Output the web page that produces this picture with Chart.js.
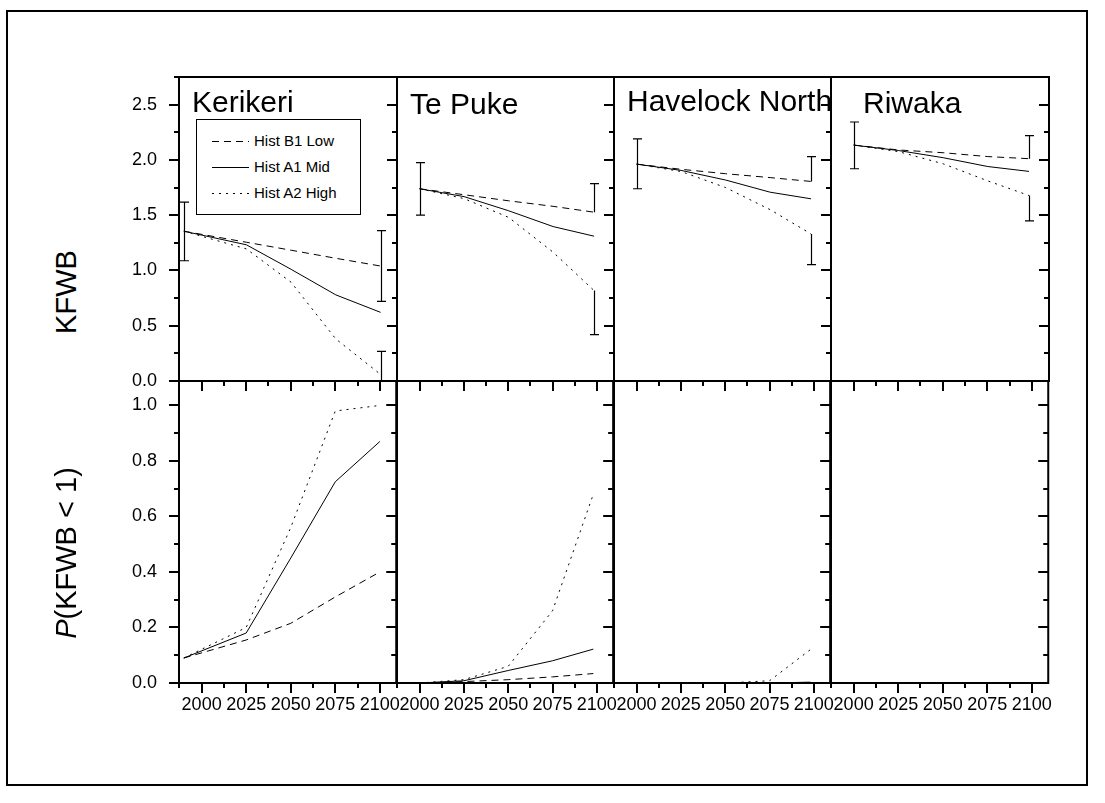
<!DOCTYPE html>
<html>
<head>
<meta charset="utf-8">
<title>KFWB projections by site</title>
<script src="https://cdn.jsdelivr.net/npm/chart.js@4.4.1/dist/chart.umd.min.js"></script>
<style>
  html, body { margin: 0; padding: 0; background: #fff; }
  #page { position: relative; width: 1105px; height: 803px; overflow: hidden;
          font-family: "Liberation Sans", Arial, Helvetica, sans-serif; color: #000; }
  #frame { position: absolute; left: 6px; top: 10px; width: 1082px; height: 776px;
           border: 2px solid #000; box-sizing: border-box; }
  #page canvas { position: absolute; }
  .site { position: absolute; font-size: 30px; line-height: 30px; white-space: nowrap; z-index: 5; }
  .axis-title { position: absolute; font-size: 29px; line-height: 29px; white-space: nowrap;
                transform: translate(-50%, -50%) rotate(-90deg); z-index: 5; }
  #legend { position: absolute; left: 196px; top: 119px; width: 165px; height: 96px;
            border: 1px solid #000; box-sizing: border-box; background: #fff; z-index: 5; }
  .lg-row { position: absolute; left: 0; width: 160px; height: 20px; font-size: 15px;
            line-height: 20px; white-space: nowrap; }
  .lg-row svg { position: absolute; left: 15px; top: 0; }
  .lg-row span { position: absolute; left: 57px; top: 0; }
</style>
</head>
<body>
<div id="page">
  <div id="frame"></div>
</div>
<script>
// ---- data ----
const siteNames = ['Kerikeri', 'Te Puke', 'Havelock North', 'Riwaka'];
const scenarioNames = ['Hist B1 Low', 'Hist A1 Mid', 'Hist A2 High'];

const xTickYears = [2000, 2025, 2050, 2075, 2100];
const kfwbTicks = [0.0, 0.5, 1.0, 1.5, 2.0, 2.5];
const probTicks = [0.0, 0.2, 0.4, 0.6, 0.8, 1.0];

const kerikeriYears = [1990, 2025, 2050, 2075, 2100];
const tePukeYears   = [2000, 2025, 2050, 2075, 2098];
const havelockYears = [2000, 2025, 2050, 2075, 2098];
const riwakaYears   = [2000, 2025, 2050, 2075, 2098];

// KFWB
const kerikeriKfwbLow  = [1.355, 1.255, 1.183, 1.11, 1.04];
const kerikeriKfwbMid  = [1.355, 1.232, 1.01, 0.779, 0.621];
const kerikeriKfwbHigh = [1.355, 1.195, 0.893, 0.38, 0.06];
const tePukeKfwbLow    = [1.739, 1.685, 1.63, 1.58, 1.527];
const tePukeKfwbMid    = [1.739, 1.668, 1.54, 1.397, 1.31];
const tePukeKfwbHigh   = [1.739, 1.65, 1.48, 1.165, 0.818];
const havelockKfwbLow  = [1.962, 1.915, 1.875, 1.84, 1.805];
const havelockKfwbMid  = [1.962, 1.905, 1.818, 1.708, 1.648];
const havelockKfwbHigh = [1.962, 1.895, 1.75, 1.55, 1.33];
const riwakaKfwbLow    = [2.134, 2.09, 2.065, 2.03, 2.011];
const riwakaKfwbMid    = [2.134, 2.085, 2.02, 1.94, 1.896];
const riwakaKfwbHigh   = [2.134, 2.075, 1.965, 1.81, 1.678];

// P(KFWB < 1)
const kerikeriProbLow  = [0.09, 0.155, 0.215, 0.31, 0.40];
const kerikeriProbMid  = [0.09, 0.18, 0.45, 0.725, 0.87];
const kerikeriProbHigh = [0.09, 0.20, 0.56, 0.98, 1.0];
const tePukeProbLow    = [0, 0.005, 0.012, 0.022, 0.034];
const tePukeProbMid    = [0, 0.008, 0.045, 0.08, 0.122];
const tePukeProbHigh   = [0, 0.012, 0.06, 0.26, 0.68];
const havelockProbLow  = [0, 0, 0, 0, 0];
const havelockProbMid  = [0, 0, 0, 0, 0.003];
const havelockProbHigh = [0, 0, 0, 0.008, 0.12];
const riwakaProbLow    = [0, 0, 0, 0, 0];
const riwakaProbMid    = [0, 0, 0, 0, 0];
const riwakaProbHigh   = [0, 0, 0, 0, 0];

// spread bars: year, lower end, upper end, cap at lower end, cap at upper end
const kerikeriBars = [[1990, 1.088, 1.618, 1, 1], [2100, 0.72, 1.36, 1, 1], [2100, -0.15, 0.268, 1, 1]];
const tePukeBars   = [[2000, 1.50, 1.975, 1, 1], [2098, 1.527, 1.785, 0, 1], [2098, 0.42, 0.818, 1, 0]];
const havelockBars = [[2000, 1.739, 2.19, 1, 1], [2098, 1.805, 2.03, 0, 1], [2098, 1.053, 1.33, 1, 0]];
const riwakaBars   = [[2000, 1.92, 2.343, 1, 1], [2098, 2.011, 2.219, 0, 1], [2098, 1.449, 1.678, 1, 0]];

// ---- assembly ----
const sites = [
  { years: kerikeriYears, kfwb: [kerikeriKfwbLow, kerikeriKfwbMid, kerikeriKfwbHigh],
    prob: [kerikeriProbLow, kerikeriProbMid, kerikeriProbHigh], bars: kerikeriBars },
  { years: tePukeYears, kfwb: [tePukeKfwbLow, tePukeKfwbMid, tePukeKfwbHigh],
    prob: [tePukeProbLow, tePukeProbMid, tePukeProbHigh], bars: tePukeBars },
  { years: havelockYears, kfwb: [havelockKfwbLow, havelockKfwbMid, havelockKfwbHigh],
    prob: [havelockProbLow, havelockProbMid, havelockProbHigh], bars: havelockBars },
  { years: riwakaYears, kfwb: [riwakaKfwbLow, riwakaKfwbMid, riwakaKfwbHigh],
    prob: [riwakaProbLow, riwakaProbMid, riwakaProbHigh], bars: riwakaBars }
];

// ---- layout & style ----
const colEdges = [179, 397, 614, 831, 1049];
const rowEdges = [77, 381, 683];
const xRange = [1987.3, 2109.2];
const yRanges = [[0, 2.75], [0, 1.088]];
const dashes = [[7, 5], [], [2, 5]];
const titleSpots = [[192, 87], [410, 89], [627, 86], [863, 88]];
const tickFont = { family: 'Liberation Sans', size: 18 };
const MAJOR = 10, MINOR = 5;

function tickList(majors, lo, hi) {
  const step = majors[1] - majors[0];
  const out = majors.filter(v => v >= lo - 1e-9 && v <= hi + 1e-9).map(v => [v, MAJOR]);
  for (let v = majors[0] - step / 2; v <= hi + 1e-9; v += step) {
    if (v >= lo - 1e-9) out.push([v, MINOR]);
  }
  return out;
}

// frame and tick marks round each panel
const panelFrame = {
  id: 'panelFrame',
  afterDraw(chart, args, opts) {
    const { ctx, chartArea: a, scales: { x, y } } = chart;
    ctx.save();
    ctx.strokeStyle = '#000';
    ctx.lineWidth = 2;
    ctx.lineCap = 'butt';
    ctx.beginPath();
    tickList(opts.yTicks, y.min, y.max).forEach(([v, len]) => {
      const p = Math.round(y.getPixelForValue(v));
      ctx.moveTo(a.left, p); ctx.lineTo(a.left - len, p);
      ctx.moveTo(a.right, p); ctx.lineTo(a.right - len, p);
    });
    if (opts.row === 1) {
      tickList(xTickYears, x.min, x.max).forEach(([v, len]) => {
        const p = Math.round(x.getPixelForValue(v));
        ctx.moveTo(p, a.bottom); ctx.lineTo(p, a.bottom + len);
        ctx.moveTo(p, a.top); ctx.lineTo(p, a.top + len);
      });
    }
    ctx.stroke();
    ctx.strokeRect(a.left, a.top, a.right - a.left, a.bottom - a.top);
    ctx.restore();
  }
};

// vertical spread bars with end caps
const spreadBars = {
  id: 'spreadBars',
  afterDatasetsDraw(chart, args, opts) {
    const bars = opts.bars || [];
    if (!bars.length) return;
    const { ctx, chartArea: a, scales: { x, y } } = chart;
    ctx.save();
    ctx.beginPath();
    ctx.rect(a.left, a.top, a.right - a.left, a.bottom - a.top);
    ctx.clip();
    ctx.strokeStyle = '#000';
    ctx.lineWidth = 1.2;
    ctx.beginPath();
    bars.forEach(([yr, lo, hi, capLo, capHi]) => {
      const px = Math.round(x.getPixelForValue(yr)) + 0.5;
      const pLo = y.getPixelForValue(lo), pHi = y.getPixelForValue(hi);
      ctx.moveTo(px, pLo); ctx.lineTo(px, pHi);
      if (capLo) { ctx.moveTo(px - 4.5, pLo); ctx.lineTo(px + 4.5, pLo); }
      if (capHi) { ctx.moveTo(px - 4.5, pHi); ctx.lineTo(px + 4.5, pHi); }
    });
    ctx.stroke();
    ctx.restore();
  }
};

const page = document.getElementById('page');

function buildPanel(row, col) {
  const site = sites[col];
  const series = row === 0 ? site.kfwb : site.prob;
  const padT = 40, padR = 15;
  const padL = col === 0 ? 90 : 15;
  const padB = row === 1 ? 45 : 40;
  const left = colEdges[col], right = colEdges[col + 1];
  const top = rowEdges[row], bottom = rowEdges[row + 1];
  const canvas = document.createElement('canvas');
  canvas.width = right - left + padL + padR;
  canvas.height = bottom - top + padT + padB;
  canvas.style.left = (left - padL) + 'px';
  canvas.style.top = (top - padT) + 'px';
  canvas.style.width = canvas.width + 'px';
  canvas.style.height = canvas.height + 'px';
  page.appendChild(canvas);

  const yTicks = row === 0 ? kfwbTicks : probTicks;
  const showX = row === 1, showY = col === 0;
  return new Chart(canvas, {
    type: 'line',
    data: {
      datasets: series.map((vals, i) => ({
        label: scenarioNames[i],
        data: site.years.map((yr, k) => ({ x: yr, y: vals[k] })),
        borderColor: '#000',
        borderWidth: 1,
        borderDash: dashes[i],
        pointRadius: 0,
        tension: 0,
        fill: false
      }))
    },
    options: {
      responsive: false,
      animation: false,
      devicePixelRatio: 1,
      events: [],
      layout: { padding: { left: showY ? 0 : padL, right: padR, top: padT, bottom: showX ? 0 : padB } },
      plugins: {
        legend: { display: false },
        tooltip: { enabled: false },
        panelFrame: { row: row, yTicks: yTicks },
        spreadBars: { bars: row === 0 ? site.bars : [] }
      },
      scales: {
        x: {
          type: 'linear', min: xRange[0], max: xRange[1], display: showX,
          grid: { display: false, drawTicks: false }, border: { display: false },
          afterBuildTicks: s => { s.ticks = xTickYears.map(v => ({ value: v })); },
          afterFit: s => { if (showX) s.height = padB; },
          ticks: { font: tickFont, color: '#000', padding: 11, maxRotation: 0, minRotation: 0,
                   autoSkip: false, callback: v => String(v) }
        },
        y: {
          type: 'linear', min: yRanges[row][0], max: yRanges[row][1], display: showY,
          grid: { display: false, drawTicks: false }, border: { display: false },
          afterBuildTicks: s => { s.ticks = yTicks.map(v => ({ value: v })); },
          afterFit: s => { if (showY) s.width = padL; },
          ticks: { font: tickFont, color: '#000', padding: 22, autoSkip: false,
                   callback: v => Number(v).toFixed(1) }
        }
      }
    },
    plugins: [panelFrame, spreadBars]
  });
}

for (let row = 0; row < 2; row++) {
  for (let col = 0; col < 4; col++) buildPanel(row, col);
}

// site names
siteNames.forEach((name, i) => {
  const d = document.createElement('div');
  d.className = 'site';
  d.textContent = name;
  d.style.left = titleSpots[i][0] + 'px';
  d.style.top = titleSpots[i][1] + 'px';
  page.appendChild(d);
});

// axis titles
const t1 = document.createElement('div');
t1.className = 'axis-title';
t1.textContent = 'KFWB';
t1.style.left = '66px'; t1.style.top = '292px';
page.appendChild(t1);
const t2 = document.createElement('div');
t2.className = 'axis-title';
t2.innerHTML = '<i>P</i>(KFWB &lt; 1)';
t2.style.left = '66px'; t2.style.top = '553px';
page.appendChild(t2);

// legend
const legend = document.createElement('div');
legend.id = 'legend';
scenarioNames.forEach((name, i) => {
  const r = document.createElement('div');
  r.className = 'lg-row';
  r.style.top = (11 + i * 26) + 'px';
  const dash = dashes[i].length ? ` stroke-dasharray="${dashes[i].join(' ')}"` : '';
  r.innerHTML = `<svg width="38" height="20"><line x1="0" y1="10.5" x2="37" y2="10.5" stroke="#000" stroke-width="1"${dash}/></svg><span>${name}</span>`;
  legend.appendChild(r);
});
page.appendChild(legend);
</script>
</body>
</html>
